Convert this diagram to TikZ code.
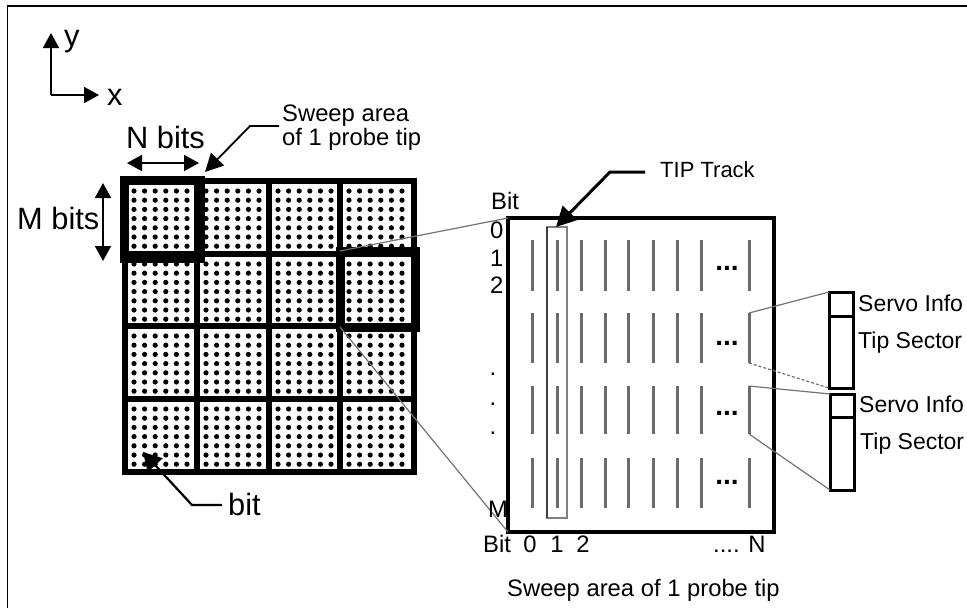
\documentclass[tikz,border=0pt]{standalone}
\usepackage{fontspec}
\setmainfont{Liberation Sans}
\usetikzlibrary{positioning, arrows.meta, calc}
\begin{document}
\begin{tikzpicture}[x=1pt, y=-1pt, >={Stealth[length=15pt, width=16pt, inset=0pt]},
  lbl/.style={inner sep=0, anchor=base west, font=\fontsize{23.8}{21.7}\selectfont, align=left},
  sidelbl/.style={lbl, font=\fontsize{23}{23}\selectfont},
  biglbl/.style={lbl, font=\fontsize{30.8}{30}\selectfont},
  elips/.style={lbl, anchor=base, font=\bfseries\fontsize{28}{28}\selectfont},
  gridline/.style={line width=6pt},
  hilite/.style={draw, line width=9pt, outer sep=0, inner sep=0},
  leader/.style={draw=black!55, line width=1.2pt},
  ptr/.style={->, line width=1.8pt},
  srvbox/.style={draw, line width=3pt, outer sep=0, inner sep=0, minimum width=24pt}]
  \useasboundingbox (0,0) rectangle (967,608);
  \draw[line width=1.4pt] (7.5,608) -- (7.5,6) -- (967,6);
  % axes
  \coordinate (org) at (51,95);
  \node[biglbl] (ylbl) at (64,46) {y};
  \node[biglbl] (xlbl) at (107,105) {x};
  \coordinate (ytip) at (51,33);
  \coordinate (xtip) at (99,95);
  \draw[ptr] (org) -- (ytip);
  \draw[ptr] (org) -- (xtip);
  % probe array
  \foreach \cx in {125,197,269,340}
    \foreach \cy in {181,254,326,399}
      \foreach \dx in {0,1,...,5}
        \foreach \dy in {0,1,...,6}
          \fill ($(\cx,\cy)+(9+10.6*\dx,10+9.2*\dy)$) circle (2.6pt);
  \foreach \px in {125,197,269,340,414}
    \draw[gridline] (\px,178) -- (\px,475);
  \foreach \py in {181,254,326,399,472}
    \draw[gridline] (122,\py) -- (417,\py);
  % sweep area
  \node[draw, line width=3.5pt, outer sep=0, inner sep=0, minimum width=266pt, minimum height=314pt, anchor=north west] (sweep) at (508,218) {};
  \node[hilite, minimum width=76pt, minimum height=78pt, anchor=north west] (cellA) at (124,180) {};
  \node[hilite, minimum width=75pt, minimum height=76pt, anchor=north west] (cellB) at (340,251) {};
  \draw[leader] (cellB.north west) -- (sweep.north west);
  \draw[leader] (cellB.south west) -- (sweep.south west);
  \foreach \tx in {532,557,581,605,628,653,677,701,749}
    \foreach \ty/\tb in {240/291,313/363,386/434,458/508}
      \draw[black!58, line width=3pt] (\tx,\ty) -- (\tx,\tb);
  \node[draw=black!50, line width=1.5pt, outer sep=0, inner sep=0, minimum width=20pt, minimum height=291pt, anchor=north west] (track) at (547,227) {};
  \draw[black!75, line width=1.5pt] (track.north west) -- (track.south west);
  \foreach \ey in {270,345,415,484}
    \node[elips] (dots\ey) at (727,\ey) {...};
  % labels of the sweep area
  \node[lbl] (bittop) at (491,209) {Bit};
  \node[lbl] (row0) at (490,238) {0};
  \node[lbl] (row1) at (490,266) {1};
  \node[lbl] (row2) at (490,293) {2};
  \foreach \dy in {375,405,434}
    \node[lbl, anchor=base] (rdot\dy) at (493,\dy) {.};
  \node[lbl] (rowM) at (488,517) {M};
  \node[lbl] (bitbot) at (483,552) {Bit};
  \node[lbl, anchor=base] (col0) at (530,552) {0};
  \node[lbl, anchor=base] (col1) at (557,552) {1};
  \node[lbl, anchor=base] (col2) at (583,552) {2};
  \node[lbl] (colN) at (713,552) {.... N};
  \node[lbl] (caption) at (507,596) {Sweep area of 1 probe tip};
  % sectors
  \node[srvbox, minimum height=24pt, anchor=north west] (srvA) at (829,292) {};
  \node[srvbox, minimum height=72pt, anchor=north west] (secA) at (829,316) {};
  \node[srvbox, minimum height=23pt, anchor=north west] (srvB) at (830,394) {};
  \node[srvbox, minimum height=73pt, anchor=north west] (secB) at (830,417) {};
  \coordinate (rtwoT) at (749,313);
  \coordinate (rtwoB) at (749,363);
  \coordinate (rthrT) at (749,386);
  \coordinate (rthrB) at (749,434);
  \draw[leader] (rtwoT) -- (srvA.north west);
  \draw[leader, densely dashed] (rtwoB) -- (secA.south west);
  \draw[leader] (rthrT) -- (srvB.north west);
  \draw[leader] (rthrB) -- (secB.south west);
  \node[sidelbl] (srvlblA) at (858,311) {Servo Info};
  \node[sidelbl] (seclblA) at (858,348) {Tip Sector};
  \node[sidelbl] (srvlblB) at (859,412) {Servo Info};
  \node[sidelbl] (seclblB) at (860,449) {Tip Sector};
  % callouts
  \node[biglbl] (nbits) at (126,148) {N bits};
  \node[biglbl] (mbits) at (17,229) {M bits};
  \node[lbl] (sweeplbl) at (282,145) {Sweep area\\of 1 probe tip};
  \node[biglbl] (bitlbl) at (228,515) {bit};
  \node[sidelbl, font=\fontsize{22}{22}\selectfont] (tiplbl) at (660,177) {TIP Track};
  \coordinate (ntip) at (127,163);
  \coordinate (ntop) at (199,163);
  \coordinate (mtop) at (103,183);
  \coordinate (mbot) at (103,261);
  \draw[<->, line width=1.8pt] (ntip) -- (ntop);
  \draw[<->, line width=1.8pt] (mtop) -- (mbot);
  \coordinate (swpend) at (279,126);
  \coordinate (swptip) at (205,172);
  \coordinate (bitend) at (222,505);
  \coordinate (biter) at (143,452);
  \coordinate (tipend) at (645,172);
  \coordinate (tiptip) at (556,227);
  \draw[ptr, >={Stealth[length=18pt, width=18pt, inset=0pt]}] (swpend) -- (250,126) -- (swptip);
  \draw[ptr, line width=2.2pt, >={Stealth[length=18pt, width=20pt, inset=0pt]}] (bitend) -- (192,505) -- (biter);
  \draw[ptr, line width=3pt, >={Stealth[length=20pt, width=20pt, inset=0pt]}] (tipend) -- (610,172) -- (tiptip);
\end{tikzpicture}
\end{document}
